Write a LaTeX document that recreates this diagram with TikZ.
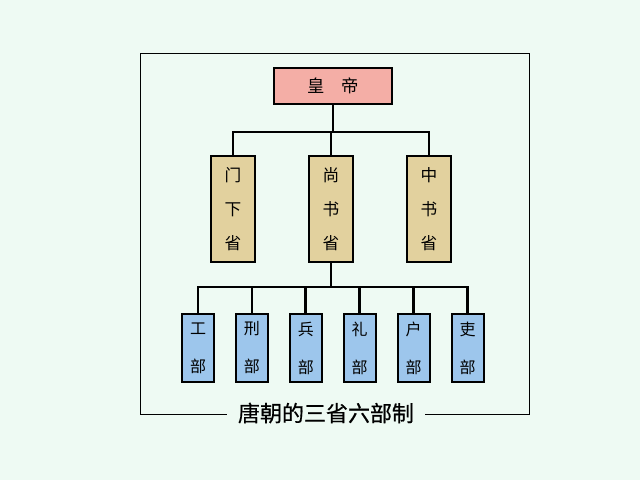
\documentclass[tikz,border=0pt]{standalone}
\usepackage{fontspec}
\usepackage{xcolor}
\usepackage{tikz}
\usetikzlibrary{positioning,calc}
\setmainfont{Noto Sans CJK SC}
\newfontfamily\captionfont{Noto Sans CJK SC}[FakeBold=0.6]

\definecolor{bgmint}{HTML}{EEFAF3}
\definecolor{emperorpink}{HTML}{F4AEA6}
\definecolor{shengtan}{HTML}{E2D19E}
\definecolor{bublue}{HTML}{9DC6EC}

\tikzset{
    office/.style={draw=black, line width=1.5pt, inner sep=0pt, align=center},
    emperorbox/.style={office, fill=emperorpink, minimum width=88.5pt, minimum height=27pt, font=\fontsize{13}{15}\selectfont},
    shengbox/.style={office, fill=shengtan, minimum width=33pt, minimum height=79.5pt, font=\fontsize{12.5}{25.5}\selectfont},
    bubox/.style={office, fill=bublue, minimum width=24pt, minimum height=51pt, font=\fontsize{12}{28.5}\selectfont},
    link/.style={line width=2pt, line cap=rect},
}

\begin{document}
\begin{tikzpicture}[x=0.75pt, y=-0.75pt]
    \useasboundingbox[fill=bgmint] (0,0) rectangle (640,480); % page with margins
    
    \node[emperorbox] (emp) at (333,86) {皇　帝}; % top of the chart
    
    % the three shengs
    \node[shengbox] (men) at (233,209) {门\\下\\省};
    \node[shengbox] (shang) at (331,209) {尚\\书\\省};
    \node[shengbox] (zhong) at (429,209) {中\\书\\省};
    
    \coordinate (bus1) at (333,132); % first branch level
    \draw[link] (emp.south) -- (bus1);
    \draw[link] (men.north) |- (bus1) -| (zhong.north);
    \draw[link] (bus1 -| shang.north) -- (shang.north);
    
    % the six bus under shangshu sheng
    \coordinate (bus2) at (331,287); % second branch level
    \draw[link] (shang.south) -- (bus2);
    \foreach \name [count=\i] in {工,刑,兵,礼,户,吏}{
        \pgfmathsetmacro{\x}{198+(\i-1)*53.9} % centre of each box
        \node[bubox] (bu\i) at (\x,348) {\name\\部};
        \draw[link] (bu\i.north) -- (bu\i.north |- bus2);
    }
    \draw[link] (bu1.north |- bus2) -- (bu6.north |- bus2);
    
    % frame and caption
    \node[inner sep=0pt, minimum width=148.5pt, minimum height=18pt, font=\captionfont\fontsize{16.5}{18}\selectfont] (cap) at (326,413) {唐朝的三省六部制};
    \coordinate (fbl) at (140,414);
    \coordinate (ftr) at (529,53);
    \draw[line width=0.75pt] (cap.west |- fbl) -- (fbl) |- (ftr) |- (cap.east |- fbl);
\end{tikzpicture}
\end{document}
